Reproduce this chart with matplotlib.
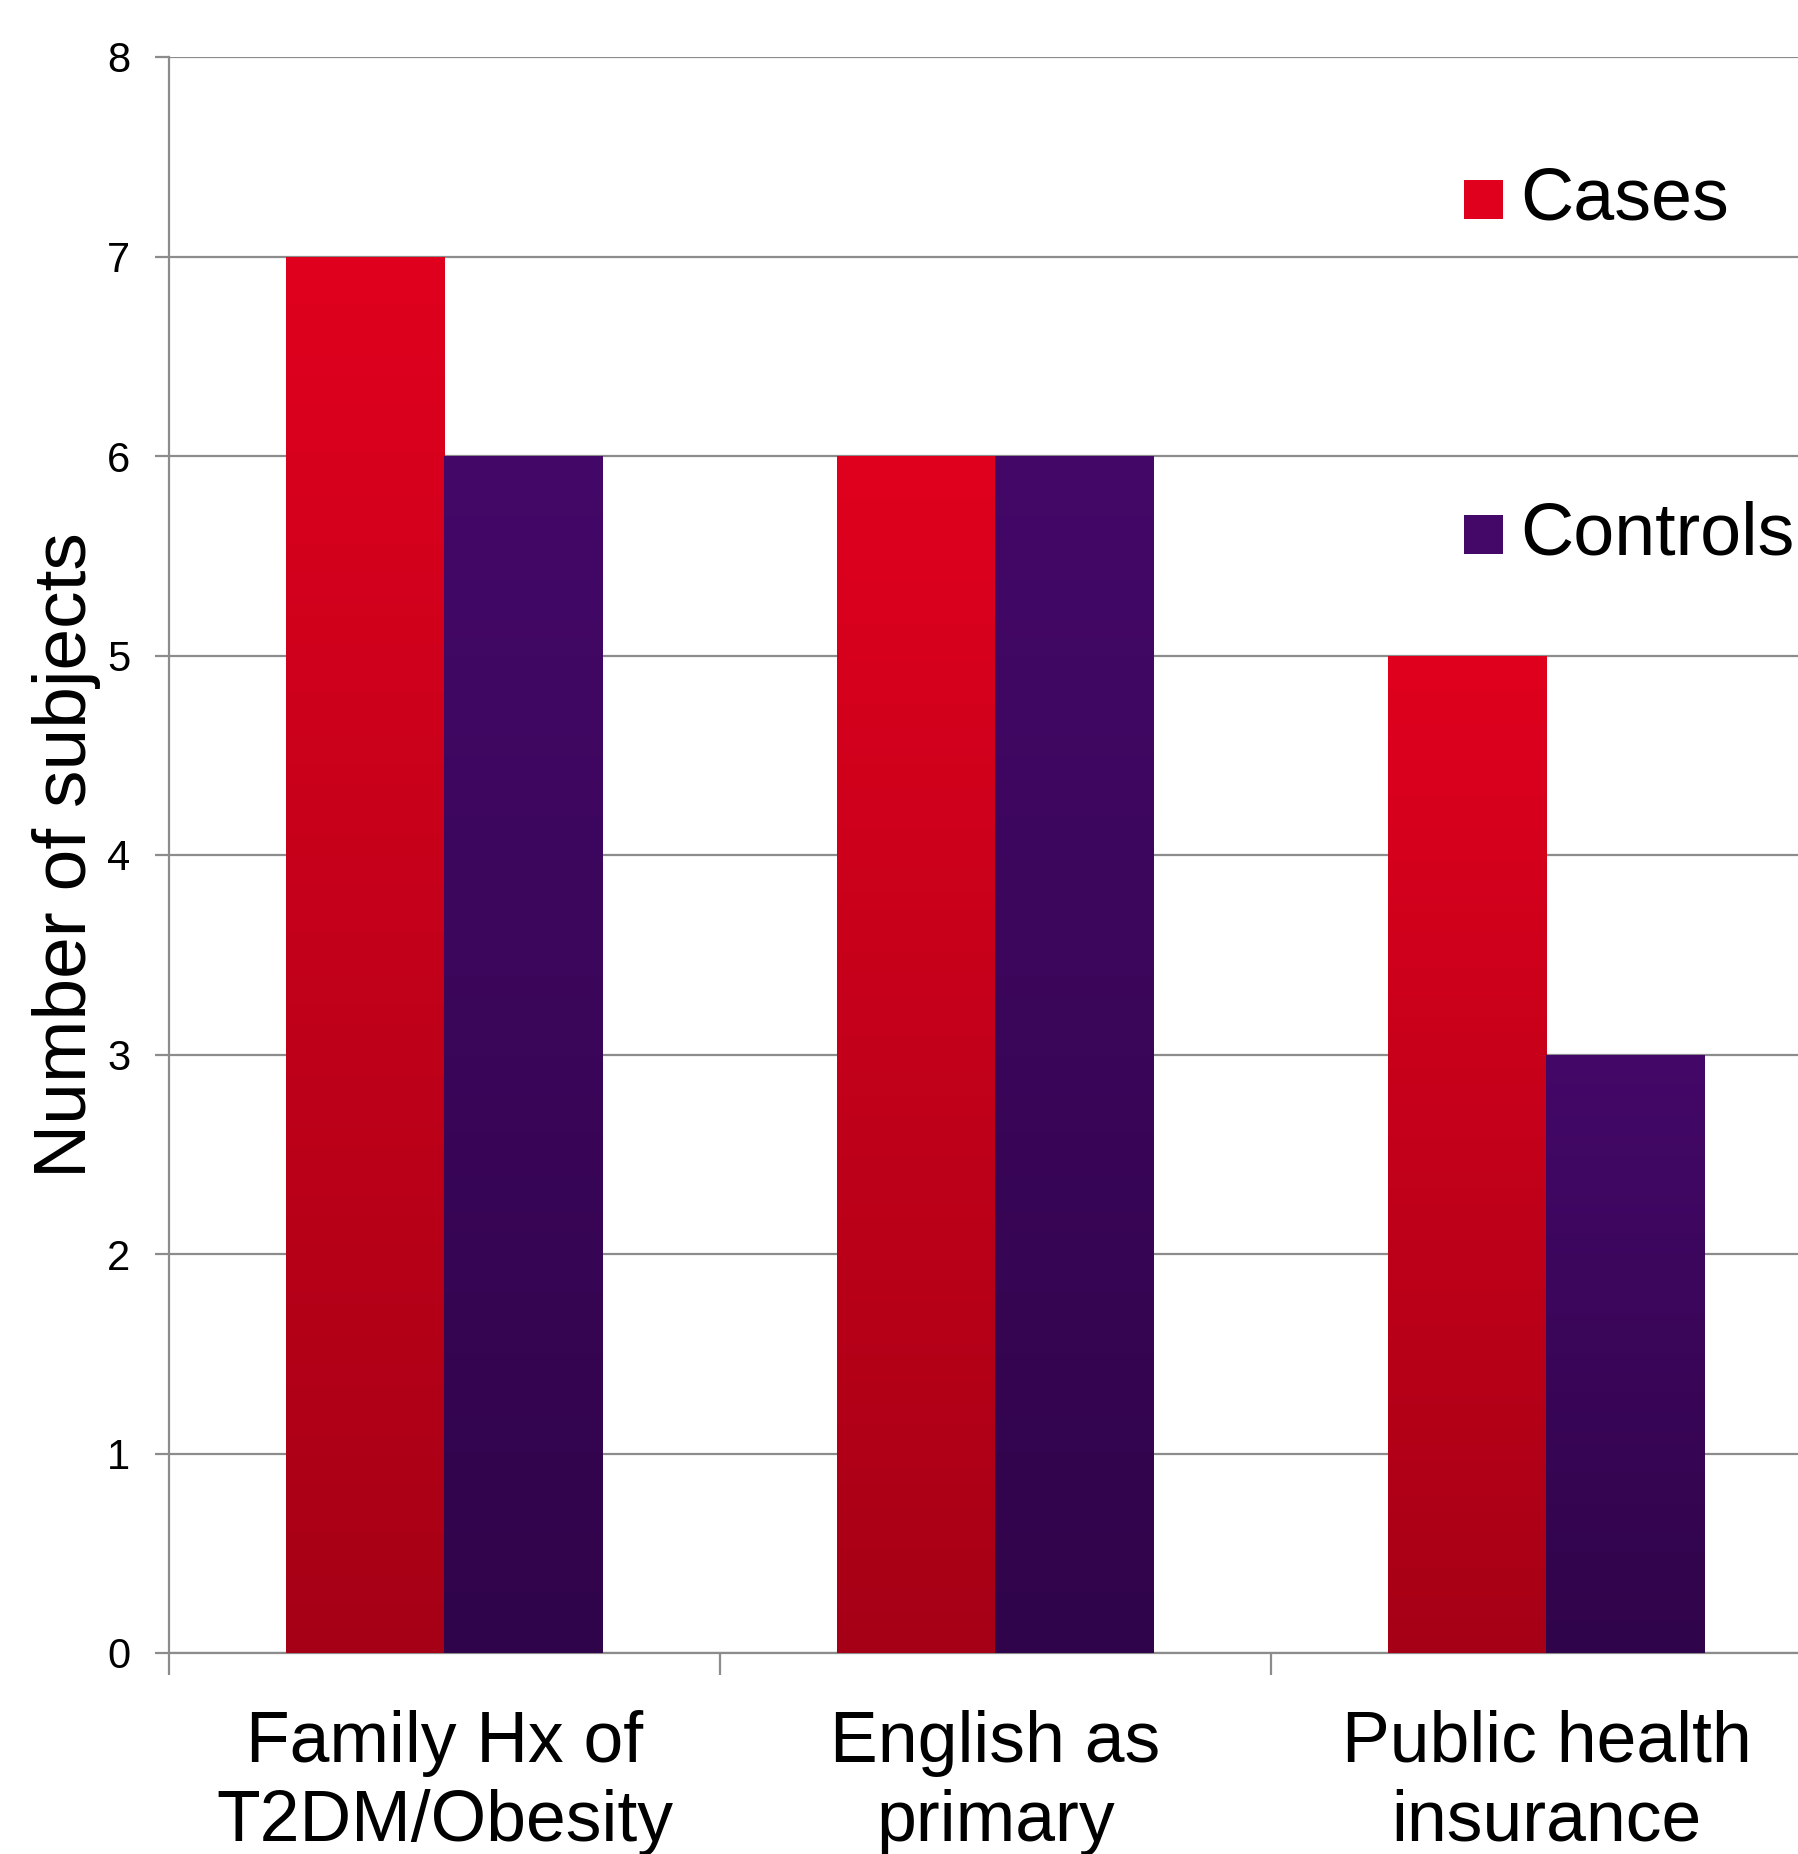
import numpy as np
import matplotlib
matplotlib.use('Agg')
import matplotlib.pyplot as plt
from matplotlib.patches import Rectangle
from matplotlib.colors import LinearSegmentedColormap

plt.rcParams['font.family'] = ['Liberation Sans', 'DejaVu Sans']

categories = ['Family Hx of\nT2DM/Obesity', 'English as\nprimary', 'Public health\ninsurance']
series = ['Cases', 'Controls']
cases = [7, 6, 5]
controls = [6, 6, 3]

red_top, red_bot = '#E0001E', '#A60016'
pur_top, pur_bot = '#440868', '#30044A'

fig = plt.figure(figsize=(17.99, 18.54), dpi=100)
ax = fig.add_axes([169/1799, 1 - 1653/1854, 1630/1799, (1653 - 57)/1854])

x = np.arange(len(categories))
w = 0.287
b1 = ax.bar(x - w/2, cases, w, color=red_top, zorder=3)
b2 = ax.bar(x + w/2, controls, w, color=pur_top, zorder=3)

# vertical gradient per bar
grad = np.linspace(0, 1, 256).reshape(-1, 1)
for bars, top, bot in [(b1, red_top, red_bot), (b2, pur_top, pur_bot)]:
    cmap = LinearSegmentedColormap.from_list('g', [bot, top])
    for p in bars:
        x0, y0 = p.get_x(), p.get_y()
        im = ax.imshow(grad, cmap=cmap, aspect='auto', origin='lower',
                       extent=[x0, x0 + p.get_width(), y0, y0 + p.get_height()],
                       zorder=4)
        im.set_clip_path(p)

ax.set_yticks(range(9))
ax.set_xticks([-0.5, 0.5, 1.5])
ax.set_xticklabels([])
ax.set_xticks(x, minor=True)
ax.set_xticklabels(categories, minor=True, fontsize=51.5, linespacing=1.23)
ax.set_xlim(-0.5, -0.5 + 1630/551)
ax.set_ylim(0, 8)
ax.grid(axis='y', color='#8C8C8C', linewidth=1.6, zorder=0)
ax.set_axisbelow(True)

for s in ['top', 'right']:
    ax.spines[s].set_visible(False)
for s in ['left', 'bottom']:
    ax.spines[s].set_color('#8C8C8C')
    ax.spines[s].set_linewidth(1.6)

ax.tick_params(axis='y', direction='out', length=10, width=1.6, color='#8C8C8C',
               labelsize=30, pad=18)
ax.tick_params(axis='x', which='major', direction='out', length=16, width=1.6, color='#8C8C8C')
ax.tick_params(axis='x', which='minor', length=0, pad=41)

ax.set_ylabel('Number of subjects', fontsize=54)
ax.yaxis.set_label_coords(-0.042, 0.5)

# legend
for lab, col, yc in [('Cases', red_top, 200), ('Controls', pur_top, 535)]:
    fig.patches.append(Rectangle((1464/1799, 1 - (yc + 19)/1854), 39/1799, 39/1854,
                                 transform=fig.transFigure, facecolor=col, edgecolor='none'))
    fig.text(1520/1799, 1 - yc/1854, lab, fontsize=53, va='center', ha='left')

plt.savefig('out.png', dpi=100)
